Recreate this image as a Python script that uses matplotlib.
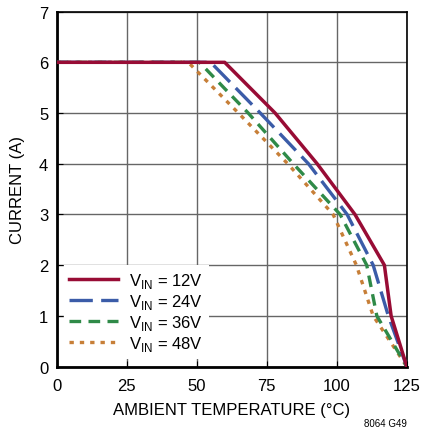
import matplotlib.pyplot as plt
from matplotlib import font_manager

fams = [f.name for f in font_manager.fontManager.ttflist]
FONT = 'Liberation Sans Narrow' if 'Liberation Sans Narrow' in fams else 'Liberation Sans'
plt.rcParams['font.family'] = [FONT, 'DejaVu Sans']

# datos
t_12 = [0, 60, 78, 93, 106.5, 117, 119.4, 125]
i_12 = [6, 6, 5, 4, 3, 2, 1, 0]
t_24 = [0, 55, 72.7, 89.9, 103.7, 113, 118.4, 125]
i_24 = [6, 6, 5, 4, 3, 2, 1, 0]
t_36 = [0, 51, 68.4, 84.5, 101.2, 110.7, 114.3, 125]
i_36 = [6, 6, 5, 4, 3, 2, 1, 0]
t_48 = [0, 47, 64.9, 82.5, 98.7, 107, 113, 125]
i_48 = [6, 6, 5, 4, 3, 2, 1, 0]

etiquetas = ['V$_{\\rm IN}$ = 12V', 'V$_{\\rm IN}$ = 24V', 'V$_{\\rm IN}$ = 36V', 'V$_{\\rm IN}$ = 48V']
plt.rcParams['mathtext.fontset'] = 'custom'
plt.rcParams['mathtext.rm'] = FONT

fig = plt.figure(figsize=(4.22, 4.35), dpi=100)
ax = fig.add_axes([0.134, 0.155, 0.83, 0.816])

ax.plot(t_12, i_12, color='#980c35', lw=2.5, label=etiquetas[0], zorder=5)
ax.plot(t_24, i_24, color='#3b5ca8', lw=2.4, dashes=(7, 2.5), label=etiquetas[1], zorder=4)
ax.plot(t_36, i_36, color='#2f8a48', lw=2.4, dashes=(3.5, 2.2), label=etiquetas[2], zorder=3)
ax.plot(t_48, i_48, color='#c77f38', lw=2.4, dashes=(1.3, 1.8), label=etiquetas[3], zorder=2)

ax.set_xlim(0, 125)
ax.set_ylim(0, 7)
ax.set_xticks([0, 25, 50, 75, 100, 125])
ax.set_yticks(range(0, 8))
ax.grid(True, color='#666666', lw=1)
ax.set_axisbelow(True)
ax.tick_params(direction='in', length=4, labelsize=12, colors='black')
ax.tick_params(axis='x', pad=8)
ax.tick_params(axis='y', pad=6)
for s in ax.spines.values():
    s.set_linewidth(1.2)
ax.spines['left'].set_linewidth(2)
ax.spines['bottom'].set_linewidth(2)

ax.set_xlabel('AMBIENT TEMPERATURE (°C)', fontsize=12, labelpad=7)
ax.set_ylabel('CURRENT (A)', fontsize=12, labelpad=10)

leg = ax.legend(loc='upper left', bbox_to_anchor=(0, 2 / 7), fontsize=12,
                frameon=True, fancybox=False, edgecolor='none', framealpha=1,
                handlelength=2.9, handletextpad=0.7, labelspacing=0.12,
                borderpad=0.35, borderaxespad=0)
leg.set_bbox_to_anchor((0.02, 2 / 7), transform=ax.transAxes)

fig.text(0.965, 0.018, '8064 G49', fontsize=7, ha='right')

fig.savefig('out.png', dpi=100)
